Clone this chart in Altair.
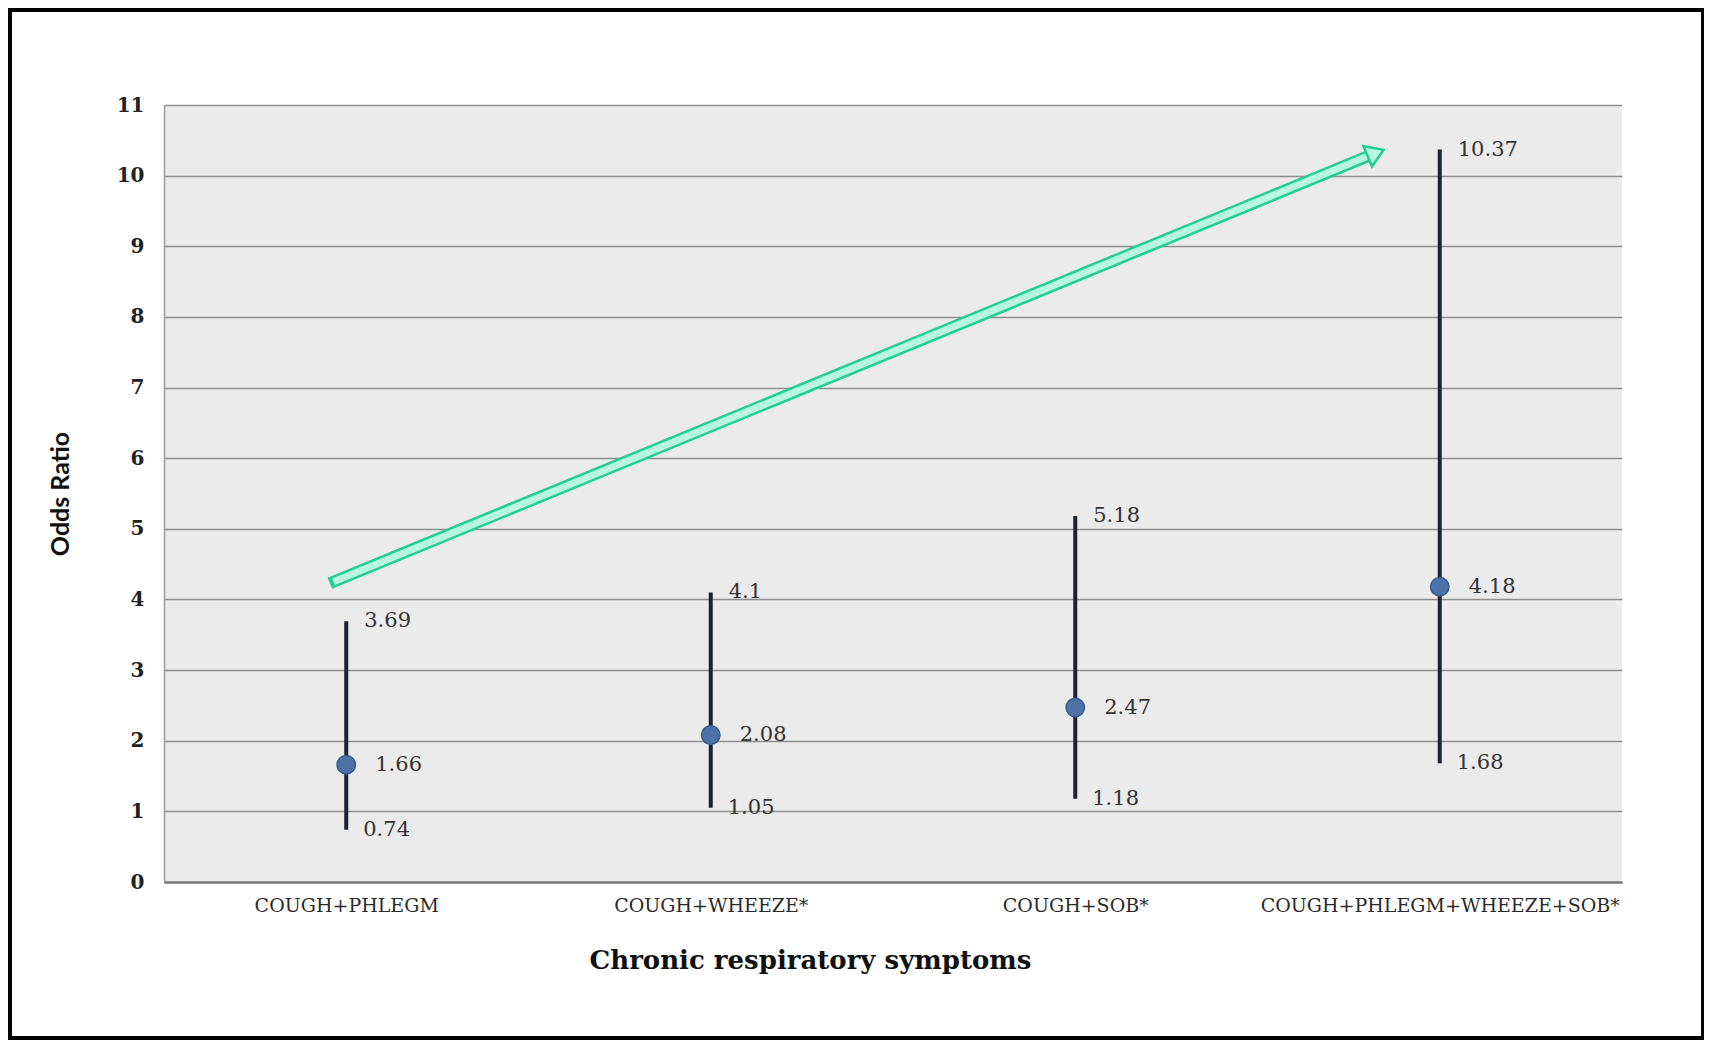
import altair as alt
import pandas as pd

# ---- data ----
categories = ["COUGH+PHLEGM", "COUGH+WHEEZE*", "COUGH+SOB*", "COUGH+PHLEGM+WHEEZE+SOB*"]
odds_ratio = [1.66, 2.08, 2.47, 4.18]
ci_lower = [0.74, 1.05, 1.18, 1.68]
ci_upper = [3.69, 4.1, 5.18, 10.37]
y_ticks = list(range(0, 12))

# decorative trend arrow (in data units: x = category index space, y = odds ratio)
arrow_x = [0.455, 3.303]
arrow_y = [4.23, 10.275]
arrow_inner_x = [0.465, 3.300]
arrow_inner_y = [4.25, 10.27]
arrow_tip_x = [3.346]
arrow_tip_y = [10.365]

W, H = 1458, 777

df = pd.DataFrame({
    "cat": categories,
    "pos": [i + 0.5 for i in range(len(categories))],
    "or": odds_ratio,
    "lo": ci_lower,
    "hi": ci_upper,
})
df["or_lbl"] = [str(v) for v in odds_ratio]
df["lo_lbl"] = [str(v) for v in ci_lower]
df["hi_lbl"] = [str(v) for v in ci_upper]

arrow_df = pd.DataFrame({"ax": arrow_x, "ay": arrow_y, "o": [0, 1]})
arrow_in_df = pd.DataFrame({"ax": arrow_inner_x, "ay": arrow_inner_y, "o": [0, 1]})
tip_df = pd.DataFrame({"ax": arrow_tip_x, "ay": arrow_tip_y})
frame_df = pd.DataFrame({"k": [0]})

label_expr = "[" + ",".join("'" + c + "'" for c in categories) + "][floor(datum.value)]"

x_scale = alt.Scale(domain=[0, len(categories)], nice=False, zero=False)
y_scale = alt.Scale(domain=[0, 11], nice=False)

x_axis = alt.Axis(
    values=[i + 0.5 for i in range(len(categories))],
    labelExpr=label_expr,
    grid=False, ticks=False,
    domainColor="#7a7a7a", domainWidth=2.5,
    labelFont="DejaVu Serif", labelFontSize=19, labelColor="#2a2a2a",
    labelBaseline="middle", labelPadding=23, labelLimit=600,
    title="Chronic respiratory symptoms",
    titleFont="DejaVu Serif", titleFontSize=26, titleFontWeight="bold",
    titleColor="#111111", titleX=646, titleY=86, titleAlign="center",
    titleBaseline="alphabetic",
)
y_axis = alt.Axis(
    values=y_ticks, format="d", grid=True, gridColor="#8e8e8e", gridWidth=1.5,
    ticks=False, domainColor="#9a9a9a", domainWidth=1.5,
    labelFont="DejaVu Serif", labelFontSize=20, labelFontWeight="bold",
    labelColor="#222222", labelPadding=20,
    title="Odds Ratio", titleFont="Lato", titleFontSize=25, titleFontWeight="bold",
    titleColor="#111111", titleX=-104, titleY=H / 2, titleAngle=-90,
    titleAlign="center", titleBaseline="middle",
)

base = alt.Chart(df)

rules = base.mark_rule(color="#1b2232", strokeWidth=4).encode(
    x=alt.X("pos:Q", scale=x_scale, axis=x_axis),
    y=alt.Y("lo:Q", scale=y_scale, axis=y_axis),
    y2="hi:Q",
)

points = base.mark_point(filled=True, size=340, fill="#4d72a8", stroke="#3a5b8f",
                         strokeWidth=1.5, opacity=1).encode(
    x=alt.X("pos:Q", scale=x_scale),
    y=alt.Y("or:Q", scale=y_scale),
)

txt_kw = dict(font="DejaVu Serif", fontSize=21, color="#333333", align="left", baseline="middle")
t_hi = base.mark_text(dx=18, **txt_kw).encode(x="pos:Q", y="hi:Q", text="hi_lbl:N")
t_or = base.mark_text(dx=29, **txt_kw).encode(x="pos:Q", y="or:Q", text="or_lbl:N")
t_lo = base.mark_text(dx=17, **txt_kw).encode(x="pos:Q", y="lo:Q", text="lo_lbl:N")

arrow_outer = alt.Chart(arrow_df).mark_line(color="#1fcf93", strokeWidth=12, strokeCap="butt").encode(
    x="ax:Q", y="ay:Q", order="o:Q"
)
arrow_inner = alt.Chart(arrow_in_df).mark_line(color="#b8f6e2", strokeWidth=7, strokeCap="butt").encode(
    x="ax:Q", y="ay:Q", order="o:Q"
)
arrow_head = alt.Chart(tip_df).mark_point(
    shape="M0,0 L0.9,1.4 L-0.9,1.4 Z", angle=67.6, size=600, filled=True,
    fill="#b8f6e2", stroke="#1fcf93", strokeWidth=2.5, opacity=1,
).encode(x="ax:Q", y="ay:Q")

frame = alt.Chart(frame_df).mark_rect(fillOpacity=0, stroke="#000000", strokeWidth=4).encode(
    x=alt.value(-154), x2=alt.value(1539), y=alt.value(-95), y2=alt.value(933)
)

chart = alt.layer(
    rules, arrow_outer, arrow_inner, arrow_head, points, t_hi, t_or, t_lo, frame
).properties(
    width=W, height=H,
    autosize=alt.AutoSizeParams(type="none"),
    padding={"left": 156, "top": 97, "right": 82, "bottom": 158},
    background="#ffffff",
).configure_view(fill="#ebebeb", strokeWidth=0)

chart.save("out.html", embed_options={"renderer": "svg", "actions": False})
